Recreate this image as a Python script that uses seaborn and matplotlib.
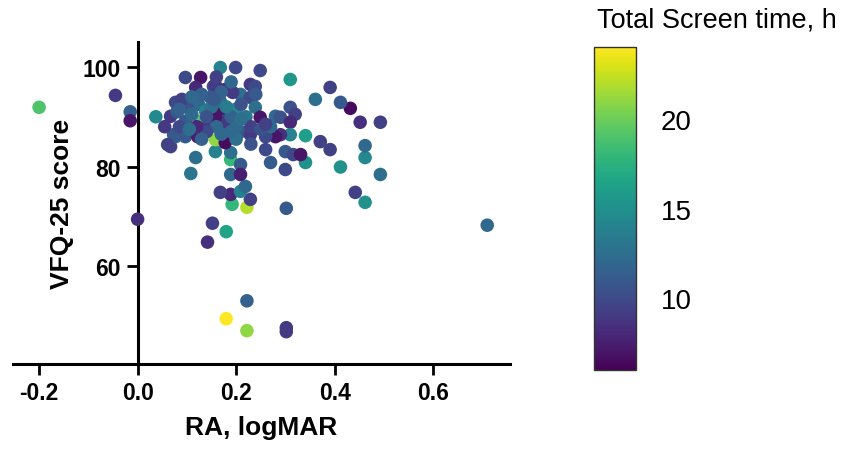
import numpy as np
import pandas as pd
import seaborn as sns
import matplotlib
matplotlib.use("Agg")
from matplotlib import pyplot as plt
from matplotlib import font_manager as fm
from matplotlib.cm import ScalarMappable
from matplotlib.colors import Normalize

sns.set_style("ticks")
plt.rcParams['font.family'] = ['Liberation Sans', 'DejaVu Sans']
plt.rcParams.update({'text.color': 'black', 'axes.labelcolor': 'black',
                     'xtick.color': 'black', 'ytick.color': 'black',
                     'axes.edgecolor': 'black'})


def arial_like(bold, size):
    # pick the normal-width Liberation Sans file, never the Narrow one
    want = ('700', 'bold') if bold else ('400', 'normal', 'regular')
    for f in fm.fontManager.ttflist:
        if (f.name == 'Liberation Sans' and str(f.weight) in want
                and f.style == 'normal' and 'Narrow' not in f.fname):
            return fm.FontProperties(fname=f.fname, size=size)
    return fm.FontProperties(family='DejaVu Sans',
                             weight='bold' if bold else 'normal', size=size)


# values
ra_logmar = [
    -0.20, -0.045, -0.015, -0.015, 0.037, 0.00, 0.152, 0.142, 0.18, 0.222,
    0.18, 0.222, 0.302, 0.302, 0.71, 0.302, 0.462, 0.192, 0.222, 0.229,
    0.189, 0.168, 0.209, 0.219, 0.442, 0.493, 0.412, 0.462, 0.462, 0.391,
    0.371, 0.452, 0.493, 0.432, 0.412, 0.391, 0.361, 0.310, 0.249, 0.199,
    0.168, 0.128, 0.097, 0.341, 0.341, 0.300, 0.270, 0.118, 0.108, 0.158,
    0.189, 0.189, 0.209, 0.189, 0.209, 0.158, 0.178, 0.067, 0.077, 0.300,
    0.316, 0.331, 0.260,
    0.118, 0.154, 0.077, 0.124, 0.148, 0.138, 0.168, 0.067, 0.097, 0.128,
    0.144, 0.175, 0.073, 0.097, 0.122, 0.061, 0.158, 0.178, 0.229, 0.239,
    0.209, 0.193, 0.229, 0.168, 0.199, 0.239, 0.249, 0.280, 0.290, 0.310,
    0.320, 0.310, 0.310, 0.290, 0.280, 0.260, 0.178, 0.158, 0.209, 0.229,
    0.10, 0.11, 0.09, 0.13, 0.15, 0.16, 0.19, 0.20, 0.21, 0.22,
    0.18, 0.14, 0.12, 0.085, 0.17, 0.20, 0.23, 0.25, 0.27, 0.19,
    0.16, 0.08, 0.11, 0.14, 0.17, 0.21, 0.24, 0.26, 0.13, 0.19,
    0.23, 0.105, 0.155, 0.055, 0.085,
]
vfq25_score = [
    91.9, 94.3, 91.0, 89.2, 90.0, 69.4, 68.6, 64.8, 66.9, 53.0,
    49.4, 47.0, 47.6, 46.8, 68.2, 71.6, 72.8, 72.4, 71.8, 73.4,
    74.4, 74.8, 75.0, 76.0, 74.8, 78.4, 79.9, 81.8, 84.2, 83.4,
    85.0, 88.9, 88.9, 91.7, 92.9, 95.9, 93.5, 97.5, 99.3, 99.9,
    99.9, 97.9, 97.9, 86.2, 80.8, 79.4, 80.8, 81.8, 78.6, 83.0,
    81.4, 82.8, 80.4, 78.4, 78.4, 85.4, 84.8, 84.0, 86.0, 83.0,
    82.4, 82.4, 83.4,
    95.9, 96.1, 92.9, 92.5, 93.9, 91.1, 90.9, 90.1, 89.1, 89.1,
    88.5, 89.1, 86.4, 86.0, 86.0, 84.4, 96.4, 95.5, 96.5, 96.1,
    94.5, 94.9, 93.9, 93.1, 91.5, 91.9, 89.9, 90.1, 89.9, 91.9,
    90.5, 88.9, 86.4, 86.4, 86.0, 86.0, 88.9, 89.9, 87.0, 86.4,
    92.0, 90.5, 93.5, 94.5, 92.0, 88.0, 90.0, 88.0, 92.5, 90.0,
    92.0, 87.0, 88.0, 88.0, 86.5, 85.5, 88.0, 87.5, 88.0, 97.0,
    98.0, 91.0, 94.0, 90.0, 95.0, 89.5, 94.5, 88.5, 85.5, 87.0,
    84.5, 87.5, 93.5, 88.0, 91.5,
]
screen_time = [
    19.0, 9.0, 11.5, 7.0, 14.5, 8.5, 9.5, 8.5, 16.5, 11.5,
    24.0, 21.0, 9.0, 9.0, 12.0, 11.0, 15.0, 18.0, 22.0, 9.5,
    8.0, 9.5, 14.0, 12.0, 9.5, 12.5, 15.0, 14.5, 12.0, 9.5,
    9.5, 8.5, 9.5, 6.5, 11.0, 9.5, 12.5, 15.5, 10.0, 10.0,
    14.0, 7.0, 10.0, 16.0, 15.0, 10.0, 11.0, 12.5, 13.0, 14.0,
    18.0, 12.5, 11.0, 12.0, 7.5, 21.0, 6.5, 9.5, 11.5, 11.0,
    10.0, 7.0, 10.0,
    8.0, 10.0, 10.0, 12.0, 11.0, 14.0, 7.0, 9.0, 11.0, 19.0,
    9.0, 10.0, 11.0, 11.0, 7.5, 9.5, 9.0, 8.0, 9.0, 10.0,
    12.5, 9.0, 10.0, 12.0, 14.5, 12.5, 7.0, 12.0, 10.5, 10.5,
    9.5, 8.0, 14.0, 8.5, 7.0, 10.0, 9.0, 7.0, 11.0, 9.0,
    10.5, 12.0, 9.5, 11.5, 12.5, 12.0, 11.5, 12.0, 10.5, 13.0,
    13.5, 10.0, 8.0, 10.0, 12.0, 12.5, 9.5, 10.5, 12.0, 12.0,
    9.5, 11.0, 12.0, 10.5, 11.5, 12.5, 11.0, 9.5, 11.5, 12.0,
    10.5, 12.5, 11.0, 9.0, 11.5,
]

df = pd.DataFrame({"RA": ra_logmar, "VFQ": vfq25_score, "Screen": screen_time})

fig = plt.figure(figsize=(8.45, 4.52), dpi=100)
ax = fig.add_axes([0.0154, 0.1925, 0.588, 0.712])

sns.scatterplot(data=df, x="RA", y="VFQ", hue="Screen", palette="viridis",
                hue_norm=(6, 24), s=95, linewidth=0, legend=False, ax=ax,
                zorder=3)

ax.set_xlim(-0.253, 0.756)
ax.set_ylim(40.3, 105)
ax.set_xticks([-0.2, 0.0, 0.2, 0.4, 0.6])
ax.set_xticklabels(["-0.2", "0.0", "0.2", "0.4", "0.6"])
ax.set_yticks([60, 80, 100])

# Prism-like axes: y axis crossing at x = 0
ax.spines['left'].set_position(('data', 0))
for side in ['top', 'right']:
    ax.spines[side].set_visible(False)
for side in ['left', 'bottom']:
    ax.spines[side].set_linewidth(2.2)
ax.tick_params(axis='both', width=2.0, length=8, pad=4)
for lbl in ax.get_xticklabels() + ax.get_yticklabels():
    lbl.set_fontproperties(arial_like(True, 16.5))

ax.set_xlabel("RA, logMAR", fontproperties=arial_like(True, 19), labelpad=8)
ax.set_ylabel("VFQ-25 score", fontproperties=arial_like(True, 19), labelpad=6)

# colour bar
cax = fig.add_axes([0.703, 0.179, 0.0497, 0.715])
sm = ScalarMappable(norm=Normalize(6, 24), cmap="viridis")
cb = fig.colorbar(sm, cax=cax, ticks=[10, 15, 20])
cb.outline.set_linewidth(1.0)
cb.outline.set_edgecolor('#333333')
cax.tick_params(direction='in', length=5, width=1.2, pad=18,
                left=True, right=True, color='#222222')
for lbl in cax.get_yticklabels():
    lbl.set_fontproperties(arial_like(False, 20))
fig.text(0.8485, 0.955, "Total Screen time, h", ha='center', va='center',
         fontproperties=arial_like(False, 19.5))

fig.savefig("out.png", dpi=100)
